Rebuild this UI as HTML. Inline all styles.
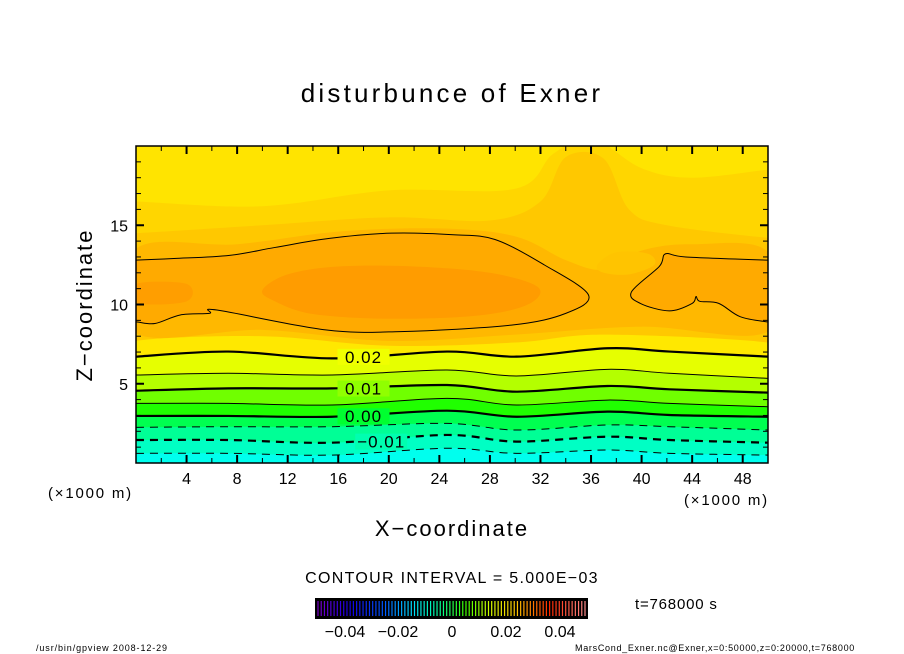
<!DOCTYPE html>
<html><head><meta charset="utf-8">
<style>
body{margin:0;background:#fff;}
svg{display:block;font-family:"Liberation Sans","DejaVu Sans",sans-serif;}
</style></head>
<body>
<svg id="chart" width="904" height="654" viewBox="0 0 904 654">
<text x="452" y="102" font-size="26" letter-spacing="3.2" text-anchor="middle">disturbunce of Exner</text>
<defs><clipPath id="pc"><rect x="136" y="146" width="632" height="317"/></clipPath></defs>
<g id="fills" clip-path="url(#pc)"></g>
<g id="lines" clip-path="url(#pc)"></g>
<g id="labels"></g>
<rect x="136" y="146" width="632" height="317" fill="none" stroke="#000" stroke-width="1.5"/>
<g id="ticks"></g>
<text x="48" y="498" font-size="15" letter-spacing="1.8">(×1000 m)</text>
<text x="684" y="505" font-size="15" letter-spacing="1.8">(×1000 m)</text>
<text x="452" y="536" font-size="22" letter-spacing="2" text-anchor="middle">X−coordinate</text>
<text transform="translate(92,305) rotate(-90)" font-size="22" letter-spacing="2" text-anchor="middle">Z−coordinate</text>
<text x="452" y="583" font-size="16" letter-spacing="1.3" text-anchor="middle">CONTOUR INTERVAL = 5.000E−03</text>
<rect x="315" y="598" width="273" height="21" fill="#000"/>
<g id="cbar"></g>
<g id="cbl" font-size="15" text-anchor="middle"></g>
<text x="635" y="609" font-size="15" letter-spacing="0.8">t=768000 s</text>
<text x="36" y="651" font-size="9" letter-spacing="0.9">/usr/bin/gpview  2008-12-29</text>
<text x="855" y="651" font-size="9" letter-spacing="0.7" text-anchor="end">MarsCond_Exner.nc@Exner,x=0:50000,z=0:20000,t=768000</text>
</svg>
<script>
// ---- data ----
const xs = [0, 7.3, 15.5, 24.6, 30.1, 37.3, 42.2, 50];
const levels = [-0.015, -0.01, -0.005, 0.0, 0.005, 0.01, 0.015, 0.02];
const zLm015 = [0.61, 0.61, 0.50, 0.93, 0.61, 0.82, 0.61, 0.50];
const zLm010 = [1.45, 1.45, 1.28, 1.77, 1.35, 1.66, 1.45, 1.28];
const zLm005 = [2.25, 2.29, 2.29, 2.50, 2.08, 2.40, 2.29, 2.08];
const zL000 = [2.97, 2.97, 2.92, 3.30, 2.92, 3.24, 3.03, 2.92];
const zL005 = [3.76, 3.76, 3.66, 4.08, 3.66, 3.97, 3.76, 3.55];
const zL010 = [4.56, 4.71, 4.71, 4.92, 4.50, 4.86, 4.65, 4.44];
const zL015 = [5.55, 5.66, 5.55, 5.87, 5.49, 5.91, 5.66, 5.34];
const zL020 = [6.71, 7.03, 6.60, 7.03, 6.71, 7.24, 7.03, 6.71];
const levelCurves = [zLm015, zLm010, zLm005, zL000, zL005, zL010, zL015, zL020];
const bandColors = ['#00ffee','#00ffc4','#00ff96','#00ff50','#20ff00','#70ff00','#b4ff00','#e6ff00'];
// upper shading regions (x km, z km)
const upperA = [[0,16.5],[10,16.2],[20,17.2],[30,17.3],[33,19.5],[36,20.5],[40,18.6],[44,18],[50,18.5]];
const upperB = [[0,14.5],[10,15],[20,15.5],[28,15.3],[32,16.5],[34,19.3],[37,19.2],[39,16],[42,15],[50,14.2]];
const upperC = [[0,13.5],[8,13.8],[16,14.6],[24,14.8],[30,14.3],[34,12.8],[37,12.2],[40,13.4],[44,13.8],[50,13.3],[50,8.3],[40,8.6],[30,8.1],[20,7.7],[10,8.4],[0,8.2]];
const yellowBand = [[0,7.7],[10,8.0],[20,7.4],[30,7.6],[37,8.1],[50,7.6],[50,6.7],[0,6.7]];
const lightSpot = [[36.5,12.5],[38,13.3],[40.5,13.2],[41,12.5],[39,11.9],[37,12]];
const contourMain = [[0,12.8],[3,12.9],[7.4,13.1],[11,13.6],[15.3,14.17],[20.2,14.5],[25.1,14.4],[28.4,14.1],[32.3,12.5],[35.8,10.6],[34,9.44],[29.7,8.7],[20.9,8.29],[15,8.4],[6.4,9.65],[5.8,9.44],[3.5,9.34],[1.5,8.8],[0,8.9],[-1,8.9],[-1,12.8]];
const contourRight = [[51,12.8],[50,12.8],[43.5,13.0],[41.9,13.2],[41.4,12.4],[39.2,10.8],[39.9,10.07],[42.2,9.6],[44,10.07],[44.3,10.5],[44.6,10.2],[46.1,10.07],[47.8,9.23],[50,8.9],[51,8.9]];
const coreMain = [[10,10.9],[12,11.9],[16,12.4],[22,12.4],[28,12],[31.8,11.1],[31,10],[27,9.3],[20,9.1],[14,9.4],[11,10.2]];
const coreLeft = [[0,11.3],[4,11.3],[4,10.2],[0,10.1]];
const labelText = ['0.02','0.01','0.00','−0.01'];
const labelX = [18.0, 18.0, 18.0, 19.4];
const labelZ = [6.7, 4.7, 2.95, 1.35];
const xTicks = [4,8,12,16,20,24,28,32,36,40,44,48];
const zTicks = [5,10,15];
const cbarTicks = [-0.04,-0.02,0,0.02,0.04];
const cbarLabels = ['−0.04','−0.02','0','0.02','0.04'];

// ---- scales ----
const X0=136,X1=768,Y0=463,Y1=146;
const sx = v => X0 + v/50*(X1-X0);
const sz = v => Y0 - v/20*(Y0-Y1);
const NS='http://www.w3.org/2000/svg';
function mk(tag, parent){const e=document.createElementNS(NS,tag);parent.appendChild(e);return e;}
const fills=document.getElementById('fills'), lines=document.getElementById('lines');
function smoothPath(pts){
  let d='M'+pts[0][0]+','+pts[0][1];
  for(let i=0;i<pts.length-1;i++){
    const p0=pts[Math.max(0,i-1)],p1=pts[i],p2=pts[i+1],p3=pts[Math.min(pts.length-1,i+2)];
    d+=' C'+(p1[0]+(p2[0]-p0[0])/6)+','+(p1[1]+(p2[1]-p0[1])/6)+' '+(p2[0]-(p3[0]-p1[0])/6)+','+(p2[1]-(p3[1]-p1[1])/6)+' '+p2[0]+','+p2[1];
  }
  return d;
}
function closedPath(pts){
  const n=pts.length;let d='M'+pts[0][0]+','+pts[0][1];
  for(let i=0;i<n;i++){
    const p0=pts[(i-1+n)%n],p1=pts[i],p2=pts[(i+1)%n],p3=pts[(i+2)%n];
    d+=' C'+(p1[0]+(p2[0]-p0[0])/6)+','+(p1[1]+(p2[1]-p0[1])/6)+' '+(p2[0]-(p3[0]-p1[0])/6)+','+(p2[1]-(p3[1]-p1[1])/6)+' '+p2[0]+','+p2[1];
  }
  return d+'Z';
}
const toPx = arr => arr.map(p=>[sx(p[0]),sz(p[1])]);
const curvePx = zs => xs.map((x,i)=>[sx(x),sz(zs[i])]);

let bg=mk('rect',fills);bg.setAttribute('x',X0);bg.setAttribute('y',Y1);bg.setAttribute('width',X1-X0);bg.setAttribute('height',Y0-Y1);bg.setAttribute('fill','#ffe400');


function areaBelow(pts,color,name){
  const p=toPx(pts);
  const full=[[X0-20,Y0+5],[X0-20,p[0][1]]].concat(p).concat([[X1+20,p[p.length-1][1]],[X1+20,Y0+5]]);
  const e=mk('path',fills);
  e.setAttribute('d',smoothPath(full)+'Z');e.setAttribute('fill',color);
  
  
}
areaBelow(upperA,'#ffd600','band-a');
areaBelow(upperB,'#ffc800','band-b');
function closedFill(pts,color,name){
  const e=mk('path',fills);e.setAttribute('d',closedPath(toPx(pts)));e.setAttribute('fill',color);
  
  
}
closedFill(upperC,'#ffb800','band-c');
closedFill(contourMain,'#ffaa00','region-main');
closedFill(contourRight,'#ffaa00','region-right');
closedFill(coreMain,'#ff9c00','core-main');
closedFill(coreLeft,'#ff9e00','core-left');
closedFill(lightSpot,'#ffc400','light-spot');
closedFill(yellowBand,'#ffe800','band-yellow');
for(let i=levelCurves.length-1;i>=0;i--){
  const p=curvePx(levelCurves[i]);
  const full=[[X0-20,Y0+5],[X0-20,p[0][1]]].concat(p).concat([[X1+20,p[p.length-1][1]],[X1+20,Y0+5]]);
  const e=mk('path',fills);
  e.setAttribute('d',smoothPath(full)+'Z');e.setAttribute('fill',bandColors[i]);
  
  
}
levelCurves.forEach((zs,i)=>{
  const lv=levels[i];
  const major=Math.abs(Math.round(lv*1000)%10)===0;
  const e=mk('path',lines);
  e.setAttribute('d',smoothPath(curvePx(zs)));
  e.setAttribute('fill','none');e.setAttribute('stroke','#000');
  e.setAttribute('stroke-width',major?2.2:1);
  if(lv<0)e.setAttribute('stroke-dasharray','8,6');
  
  
});
[contourMain,contourRight].forEach((c,k)=>{
  const e=mk('path',lines);
  e.setAttribute('d',closedPath(toPx(c)));
  e.setAttribute('fill','none');e.setAttribute('stroke','#000');e.setAttribute('stroke-width',1);
  
  
});
const lg=document.getElementById('labels');
labelText.forEach((t,i)=>{
  const x=sx(labelX[i]),y=sz(labelZ[i]);
  const r=mk('rect',lg);r.setAttribute('x',x-26);r.setAttribute('y',y-8);r.setAttribute('width',52);r.setAttribute('height',16);
  r.setAttribute('fill',i===0?'#f0ff00':(i===1?'#90ff00':(i===2?'#00ff30':'#00ffb0')));
  
  
  const e=mk('text',lg);e.setAttribute('x',x);e.setAttribute('y',y+6);e.setAttribute('font-size',17);e.setAttribute('letter-spacing',1);e.setAttribute('text-anchor','middle');
  e.textContent=t;
  
  
});
const tg=document.getElementById('ticks');
function line(x1,y1,x2,y2,w,name){const e=mk('line',tg);e.setAttribute('x1',x1);e.setAttribute('y1',y1);e.setAttribute('x2',x2);e.setAttribute('y2',y2);e.setAttribute('stroke','#000');e.setAttribute('stroke-width',w);
  
  }
for(let v=2;v<50;v+=2){const major=v%4===0,L=major?8:5,x=sx(v);
  line(x,Y0,x,Y0-L,major?2:1,'x-tick');line(x,Y1,x,Y1+L,major?2:1,'x-tick-top');}
for(let v=1;v<20;v++){const major=v%5===0,L=major?8:5,y=sz(v);
  line(X0,y,X0+L,y,major?2:1,'z-tick');line(X1,y,X1-L,y,major?2:1,'z-tick-right');}
xTicks.forEach(v=>{const e=mk('text',tg);e.setAttribute('x',sx(v));e.setAttribute('y',484);e.setAttribute('font-size',16);e.setAttribute('text-anchor','middle');e.textContent=v;
  
  });
zTicks.forEach(v=>{const e=mk('text',tg);e.setAttribute('x',128);e.setAttribute('y',sz(v)+6);e.setAttribute('font-size',16);e.setAttribute('text-anchor','end');e.textContent=v;
  
  });
const cb=document.getElementById('cbar');
const N=84;
function spectrum(t){
  const stops=[[0,[120,0,200]],[0.12,[20,0,230]],[0.25,[0,90,255]],[0.35,[0,220,255]],[0.45,[0,255,160]],[0.55,[60,255,0]],[0.65,[220,255,0]],[0.75,[255,190,0]],[0.87,[255,40,0]],[1,[255,140,140]]];
  for(let i=0;i<stops.length-1;i++){if(t<=stops[i+1][0]){const a=stops[i],b=stops[i+1],f=(t-a[0])/(b[0]-a[0]);return 'rgb('+a[1].map((c,k)=>Math.round(c+(b[1][k]-c)*f)).join(',')+')';}}
  return 'rgb(255,140,140)';
}
for(let i=0;i<N;i++){const x=318+i*(267/(N-1));
  const e=mk('line',cb);e.setAttribute('x1',x);e.setAttribute('x2',x);e.setAttribute('y1',601);e.setAttribute('y2',616);e.setAttribute('stroke',spectrum(i/(N-1)));e.setAttribute('stroke-width',1.2);
  
  }
const cbl=document.getElementById('cbl');
cbarTicks.forEach((v,i)=>{const e=mk('text',cbl);e.setAttribute('x',[345,398,452,506,560][i]);e.setAttribute('y',637);e.setAttribute('font-size',16);e.textContent=cbarLabels[i];
  
  });
</script>
</body></html>
